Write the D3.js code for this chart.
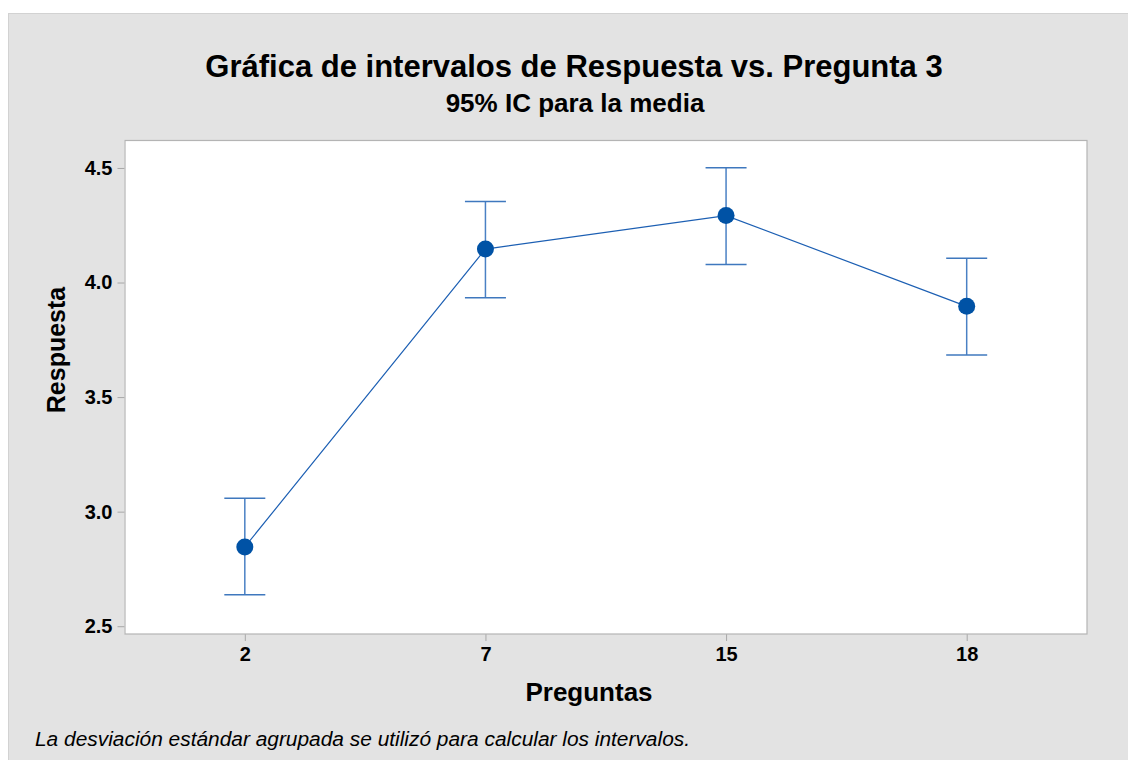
<!DOCTYPE html>
<meta charset="utf-8"/>
<html>
  <head>
    <script src="https://d3js.org/d3.v7.min.js"></script>
    <style>
      body { margin: 0; background: #fff; }
      text { font-family: 'Liberation Sans', Arial, sans-serif; }
    </style>
  </head>
  <body>
<script type="text/javascript">
// datos
var preguntas = ['2', '7', '15', '18'];
var medias = [2.846, 4.146, 4.292, 3.896];
var limInf = [2.637, 3.933, 4.079, 3.684];
var limSup = [3.058, 4.354, 4.501, 4.106];
var yTicks = [2.5, 3.0, 3.5, 4.0, 4.5];

var W = 1128, H = 760;
var margin = {top: 140, right: 41, bottom: 126, left: 124.5};
var width = W - margin.left - margin.right;
var height = H - margin.top - margin.bottom;

var svg = d3.select('body').append('svg')
    .attr('width', W)
    .attr('height', H);

// fondo gris
svg.append('rect')
    .attr('x', 8.5).attr('y', 13.5)
    .attr('width', W - 8).attr('height', H - 13)
    .attr('fill', '#e3e3e3')
    .attr('stroke', '#d2d2d2');

var g = svg.append('g')
    .attr('transform', 'translate(' + margin.left + ',' + margin.top + ')');

var x = d3.scalePoint()
    .domain(preguntas)
    .range([0, width])
    .padding(0.5);
var y = d3.scaleLinear()
    .domain([2.466, 4.622])
    .range([height, 0]);

g.append('rect')
    .attr('width', width).attr('height', height)
    .attr('fill', '#fff');

// ejes
var yAxis = g.append('g')
    .call(d3.axisLeft(y).tickValues(yTicks).tickFormat(d3.format('.1f')).tickSizeOuter(0).tickSizeInner(7).tickPadding(5));
var xAxis = g.append('g')
    .attr('transform', 'translate(0,' + height + ')')
    .call(d3.axisBottom(x).tickSizeOuter(0).tickSizeInner(7).tickPadding(6));
[xAxis, yAxis].forEach(function(a) {
  a.select('.domain').remove();
  a.selectAll('line').attr('stroke', '#a8a8a8');
  a.selectAll('text')
      .attr('fill', '#000')
      .style('font-family', "'Liberation Sans', Arial, sans-serif")
      .style('font-size', '20px')
      .style('font-weight', 'bold');
});

// borde del area del grafico
g.append('rect')
    .attr('x', 0.5).attr('y', 0.5)
    .attr('width', width - 0.5).attr('height', height - 0.5)
    .attr('fill', 'none')
    .attr('stroke', '#b4b4b4')
    .attr('stroke-width', 1.2);

// barras de intervalo
var datos = preguntas.map(function(p, i) {
  return {p: p, m: medias[i], lo: limInf[i], hi: limSup[i]};
});
var capW = 20.5;
var barras = g.append('g').selectAll('g')
    .data(datos)
    .enter().append('g');
barras.append('line')
    .attr('x1', function(d) { return x(d.p); })
    .attr('x2', function(d) { return x(d.p); })
    .attr('y1', function(d) { return y(d.lo); })
    .attr('y2', function(d) { return y(d.hi); })
    .attr('stroke', '#4a80c4').attr('stroke-width', 1.5);
['lo', 'hi'].forEach(function(k) {
  barras.append('line')
      .attr('x1', function(d) { return x(d.p) - capW; })
      .attr('x2', function(d) { return x(d.p) + capW; })
      .attr('y1', function(d) { return y(d[k]); })
      .attr('y2', function(d) { return y(d[k]); })
      .attr('stroke', '#3f78be').attr('stroke-width', 1.5);
});

var line = d3.line()
    .x(function(d) { return x(d.p); })
    .y(function(d) { return y(d.m); });
g.append('path')
    .attr('d', line(datos))
    .attr('fill', 'none')
    .attr('stroke', '#1c5fb3')
    .attr('stroke-width', 1.2);

g.append('g').selectAll('circle')
    .data(datos)
    .enter().append('circle')
    .attr('cx', function(d) { return x(d.p); })
    .attr('cy', function(d) { return y(d.m); })
    .attr('r', 8.5)
    .attr('fill', '#0052a5');

// textos
svg.append('text')
    .attr('x', 574).attr('y', 77)
    .attr('text-anchor', 'middle')
    .style('font-size', '31px').style('font-weight', 'bold')
    .text('Gráfica de intervalos de Respuesta vs. Pregunta 3');
svg.append('text')
    .attr('x', 575).attr('y', 112)
    .attr('text-anchor', 'middle')
    .style('font-size', '26px').style('font-weight', 'bold')
    .text('95% IC para la media');
svg.append('text')
    .attr('x', 589).attr('y', 701)
    .attr('text-anchor', 'middle')
    .style('font-size', '26px').style('font-weight', 'bold')
    .text('Preguntas');
svg.append('text')
    .attr('transform', 'translate(65,350) rotate(-90)')
    .attr('text-anchor', 'middle')
    .style('font-size', '25px').style('font-weight', 'bold')
    .text('Respuesta');
svg.append('text')
    .attr('x', 35).attr('y', 746)
    .style('font-size', '19.5px').style('font-style', 'italic')
    .attr('textLength', 655)
    .attr('lengthAdjust', 'spacingAndGlyphs')
    .text('La desviación estándar agrupada se utilizó para calcular los intervalos.');
</script>
  </body>
</html>
